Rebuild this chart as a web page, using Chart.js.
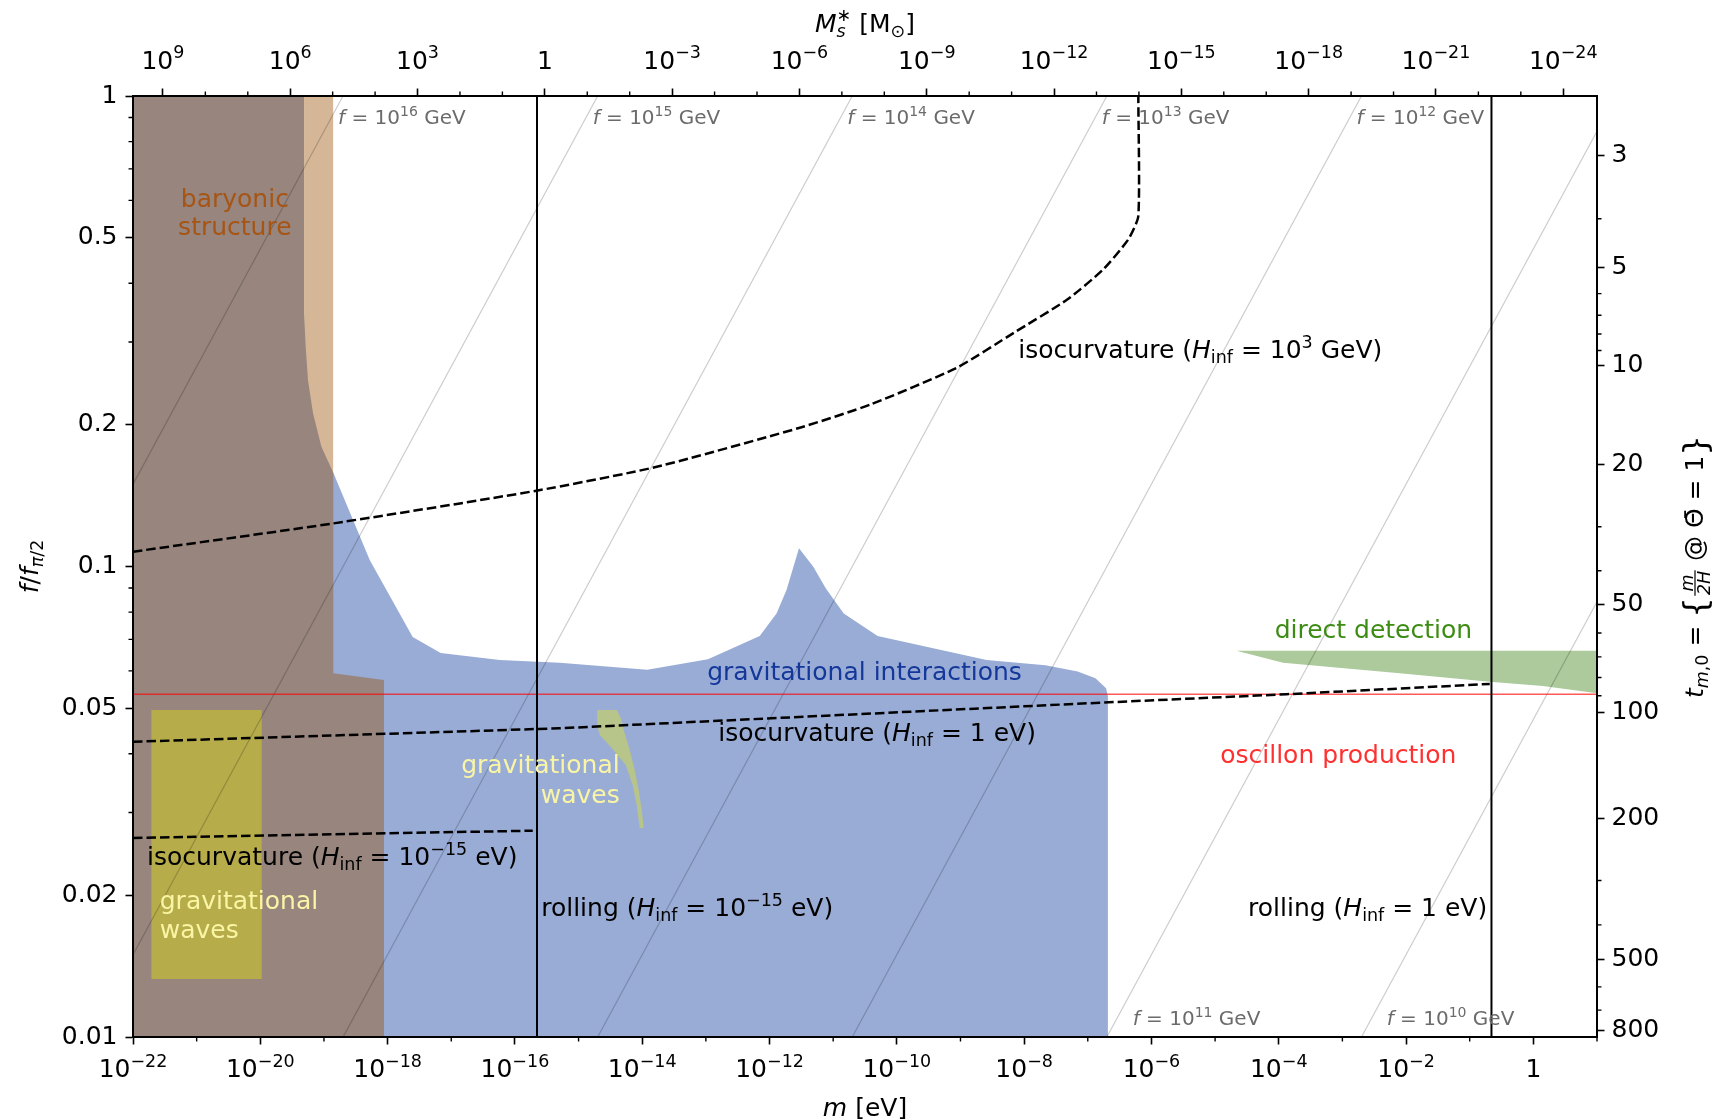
<!DOCTYPE html>
<html>
<head>
<meta charset="utf-8">
<title>Mass vs decay constant constraints</title>
<script src="https://cdn.jsdelivr.net/npm/chart.js@4.4.2/dist/chart.umd.min.js"></script>
<style>
    html, body { margin: 0; padding: 0; background: #fff; }
    #wrap { width: 1715px; height: 1120px; }
</style>
</head>
<body>
<div id="wrap"><canvas id="chart" width="1715" height="1120"></canvas></div>
<script>
// ---- axes ----
const mRange = [1e-22, 10];     // m [eV]
const fRange = [0.01, 1];       // f / f_pi/2
const bottomTickExps = [-22, -20, -18, -16, -14, -12, -10, -8, -6, -4, -2, 0];
const bottomMinorExps = [-21, -19, -17, -15, -13, -11, -9, -7, -5, -3, -1, 1];
const topTickExps = [9, 6, 3, 0, -3, -6, -9, -12, -15, -18, -21, -24];   // M_s* [M_sun]
const solarMassLogM = -15.53;   // log10 m where M_s* = 1 M_sun
const logMPerMassDecade = -2 / 3;
const leftTickValues = [1, 0.5, 0.2, 0.1, 0.05, 0.02, 0.01];
const leftMinorValues = [0.9, 0.8, 0.7, 0.6, 0.4, 0.3, 0.09, 0.08, 0.07, 0.06, 0.04, 0.03];
const rightTickLabels = [3, 5, 10, 20, 50, 100, 200, 500, 800];
const rightTickF = [0.748, 0.4310, 0.2677, 0.1645, 0.0829, 0.04906, 0.0292, 0.01463, 0.01033];
const rightMinorLabels = [4, 6, 7, 8, 9, 30, 40, 60, 70, 80, 90, 300, 400, 600, 700];

// ---- shaded regions (log10 m, f/f_pi/2) ----
const gravLogM = [-19.0, -18.851, -18.281, -17.606, -17.166, -16.239, -15.297, -13.921, -12.968, -12.154, -11.890,
    -11.733, -11.537, -11.312, -11.117, -10.834, -10.302, -8.591, -7.666, -7.159, -6.880, -6.712, -6.684, -6.684];
const gravF = [0.158, 0.158, 0.1032, 0.0708, 0.0655, 0.0633, 0.0624, 0.0603, 0.0635, 0.0712, 0.0795,
    0.0891, 0.1093, 0.0999, 0.0899, 0.0795, 0.0712, 0.0633, 0.0617, 0.0598, 0.0579, 0.0551, 0.0529, 0.01];

const baryonLogM = [-19.313, -18.852];
const baryonF = [1, 1];

const structureLogM = [-22, -19.313, -19.313, -19.287, -19.251, -19.172, -19.040, -18.852, -18.852, -18.057, -18.057];
const structureF = [1, 1, 0.3453, 0.2933, 0.2490, 0.2117, 0.1797, 0.1580, 0.0593, 0.0574, 0.01];

const gwLeftLogM = [-21.711, -19.978, -19.978, -21.711];
const gwLeftF = [0.04955, 0.04955, 0.01328, 0.01328];

const gwMidLogM = [-14.707, -14.401, -14.338, -14.291, -14.196, -14.118, -14.055, -14.008, -13.977,
    -14.039, -14.087, -14.150, -14.259, -14.479, -14.668, -14.707];
const gwMidF = [0.04955, 0.04955, 0.04764, 0.04493, 0.04074, 0.03694, 0.03350, 0.03038, 0.02781,
    0.02781, 0.03113, 0.03433, 0.03786, 0.04114, 0.04384, 0.04602];

const directLogM = [-4.664, 1, 1, 0.152, -0.685, -2.099, -3.932];
const directF = [0.0662, 0.0662, 0.0538, 0.0557, 0.0569, 0.0593, 0.0624];

// ---- lines ----
const oscillonF = 0.0535;

const isoHighLogM = [-22, -18.851, -15.662, -13.788, -11.525, -10.404, -9.057, -8.159, -7.317, -6.756, -6.363, -6.206, -6.206];
const isoHighF = [0.1075, 0.1235, 0.1449, 0.1627, 0.1972, 0.2212, 0.2646, 0.3140, 0.3698, 0.4282, 0.4960, 0.5559, 1];

const isoMidLogM = [-22, -15.296, -6.812, -3.879, -0.685];
const isoMidF = [0.04241, 0.04530, 0.05134, 0.05352, 0.05628];

const isoLowLogM = [-22, -15.72];
const isoLowF = [0.02649, 0.02745];

const rollingLogM = [-15.653, -0.658];

// lines of constant f [GeV]
const fLineExps = [16, 15, 14, 13, 12, 11, 10];
const fLineTopLogM = [-18.7, -14.7, -10.7, -6.7, -2.7, 1.3, 5.3];       // crossing f/f_pi/2 = 1
const fLineBottomLogM = [-26.7, -22.7, -18.7, -14.7, -10.7, -6.7, -2.7]; // crossing f/f_pi/2 = 0.01
const fLabelLogM = [-18.779, -14.779, -10.779, -6.779, -2.779, -6.294, -2.304];
const fLabelF = [0.896, 0.896, 0.896, 0.896, 0.896, 0.0109, 0.0109];

// ---- text labels ----
const H = [{ t: 'H', it: 1 }, { t: 'inf', sub: 1 }];
const notes = [
    { parts: [{ t: 'baryonic' }], logM: -20.40, f: 0.604, align: 'center', color: '#a65514' },
    { parts: [{ t: 'structure' }], logM: -20.40, f: 0.525, align: 'center', color: '#a65514' },
    { parts: [{ t: 'gravitational' }], logM: -21.58, f: 0.01939, align: 'left', color: '#faf5a5' },
    { parts: [{ t: 'waves' }], logM: -21.58, f: 0.01683, align: 'left', color: '#faf5a5' },
    { parts: [{ t: 'gravitational' }], logM: -14.354, f: 0.03767, align: 'right', color: '#faf5a5' },
    { parts: [{ t: 'waves' }], logM: -14.354, f: 0.03268, align: 'right', color: '#faf5a5' },
    { parts: [{ t: 'gravitational interactions' }], logM: -10.507, f: 0.05945, align: 'center', color: '#14379a' },
    { parts: [{ t: 'direct detection' }], logM: -2.513, f: 0.07328, align: 'center', color: '#3c8c14' },
    { parts: [{ t: 'oscillon production' }], logM: -3.064, f: 0.0396, align: 'center', color: '#ff3030' },
    { parts: [{ t: 'isocurvature (' }, ...H, { t: ' = 10' }, { t: '3', sup: 1 }, { t: ' GeV)' }],
        logM: -8.091, f: 0.2871, align: 'left', color: '#000' },
    { parts: [{ t: 'isocurvature (' }, ...H, { t: ' = 1 eV)' }],
        logM: -12.804, f: 0.04406, align: 'left', color: '#000' },
    { parts: [{ t: 'isocurvature (' }, ...H, { t: ' = 10' }, { t: '\u221215', sup: 1 }, { t: ' eV)' }],
        logM: -21.78, f: 0.02405, align: 'left', color: '#000' },
    { parts: [{ t: 'rolling (' }, ...H, { t: ' = 10' }, { t: '\u221215', sup: 1 }, { t: ' eV)' }],
        logM: -15.587, f: 0.01871, align: 'left', color: '#000' },
    { parts: [{ t: 'rolling (' }, ...H, { t: ' = 1 eV)' }],
        logM: -0.725, f: 0.01871, align: 'right', color: '#000' },
];

// ---- helpers ----
const FONT = '"DejaVu Sans", sans-serif';
Chart.defaults.font.family = FONT;
Chart.defaults.font.size = 25;
Chart.defaults.color = '#000';

const pts = (logM, f) => logM.map((l, i) => ({ x: 10 ** l, y: f[i] }));

function region(data, color, order, fill) {
    return { data, showLine: true, fill, backgroundColor: color, borderWidth: 0, pointRadius: 0, order };
}
function curve(data, color, width, dash, order, tension) {
    return {
        data, showLine: true, fill: false, borderColor: color, borderWidth: width,
        borderDash: dash || [], pointRadius: 0, order, tension: tension || 0
    };
}

function setFont(ctx, size, it) {
    ctx.font = (it ? 'italic ' : '') + size + 'px ' + FONT;
}
function partSize(p, size) {
    return (p.sub || p.sup) ? size * 0.7 : p.big ? size * 1.3 : size;
}
function partWidth(ctx, p, size) {
    if (p.frac) {
        setFont(ctx, size * 0.7, true);
        return Math.max(...p.frac.map(s => ctx.measureText(s).width)) + size * 0.15;
    }
    if (p.stack) {
        setFont(ctx, size * 0.7, p.it);
        return Math.max(...p.stack.map(s => ctx.measureText(s).width));
    }
    setFont(ctx, partSize(p, size), p.it);
    return ctx.measureText(p.t).width;
}
// draw text with italics, sub/superscripts and fractions; y is the vertical centre
function drawRich(ctx, parts, x, y, size, align, color) {
    const widths = parts.map(p => partWidth(ctx, p, size));
    const total = widths.reduce((a, b) => a + b, 0);
    let cx = align === 'center' ? x - total / 2 : align === 'right' ? x - total : x;
    const base = y + size * 0.3;
    ctx.fillStyle = color;
    ctx.strokeStyle = color;
    ctx.textBaseline = 'alphabetic';
    parts.forEach((p, i) => {
        ctx.textAlign = 'left';
        if (p.frac) {
            const w = widths[i];
            const bar = base - size * 0.3;
            setFont(ctx, size * 0.7, true);
            ctx.textAlign = 'center';
            ctx.fillText(p.frac[0], cx + w / 2, bar - size * 0.1);
            ctx.fillText(p.frac[1], cx + w / 2, bar + size * 0.58);
            ctx.lineWidth = 1.2;
            ctx.beginPath();
            ctx.moveTo(cx + size * 0.05, bar);
            ctx.lineTo(cx + w - size * 0.05, bar);
            ctx.stroke();
        } else if (p.stack) {
            setFont(ctx, size * 0.7, p.it);
            ctx.fillText(p.stack[0], cx, base + size * 0.2);
            ctx.fillText(p.stack[1], cx, base - size * 0.42);
        } else {
            setFont(ctx, partSize(p, size), p.it);
            const dy = p.sub ? size * 0.2 : p.sup ? -size * 0.42 : p.big ? size * 0.12 : 0;
            ctx.fillText(p.t, cx, base + dy);
        }
        cx += widths[i];
    });
}

function drawPower(ctx, exp, x, base) {
    ctx.fillStyle = '#000';
    ctx.textBaseline = 'alphabetic';
    if (exp === 0) {
        setFont(ctx, 25);
        ctx.textAlign = 'center';
        ctx.fillText('1', x, base);
        return;
    }
    const sup = exp < 0 ? '\u2212' + (-exp) : String(exp);
    setFont(ctx, 25);
    const w1 = ctx.measureText('10').width;
    setFont(ctx, 17.5);
    const w2 = ctx.measureText(sup).width;
    const x0 = x - (w1 + w2) / 2;
    ctx.textAlign = 'left';
    setFont(ctx, 25);
    ctx.fillText('10', x0, base);
    setFont(ctx, 17.5);
    ctx.fillText(sup, x0 + w1, base - 10.5);
}

const topTickM = k => 10 ** (solarMassLogM + k * logMPerMassDecade);

// right axis minor ticks sit between the labelled ones (log-log between neighbours)
function rightF(t) {
    let i = 0;
    while (i < rightTickLabels.length - 2 && t > rightTickLabels[i + 1]) i++;
    const a = Math.log10(rightTickLabels[i]), b = Math.log10(rightTickLabels[i + 1]);
    const fa = Math.log10(rightTickF[i]), fb = Math.log10(rightTickF[i + 1]);
    return 10 ** (fa + (Math.log10(t) - a) / (b - a) * (fb - fa));
}

const decor = {
    id: 'decor',
    afterDatasetsDraw(chart) {
        const ctx = chart.ctx;
        const xs = chart.scales.x, ys = chart.scales.y;
        ctx.save();
        fLineExps.forEach((n, i) => {
            drawRich(ctx, [{ t: 'f', it: 1 }, { t: ' = 10' }, { t: String(n), sup: 1 }, { t: ' GeV' }],
                xs.getPixelForValue(10 ** fLabelLogM[i]), ys.getPixelForValue(fLabelF[i]), 20, 'left', '#6b6b6b');
        });
        notes.forEach(n => {
            drawRich(ctx, n.parts, xs.getPixelForValue(10 ** n.logM), ys.getPixelForValue(n.f), 25, n.align, n.color);
        });
        ctx.restore();
    },
    afterDraw(chart) {
        const ctx = chart.ctx;
        const a = chart.chartArea;
        const xs = chart.scales.x, ys = chart.scales.y;
        ctx.save();
        // minor ticks
        ctx.strokeStyle = '#000';
        ctx.lineWidth = 1.4;
        ctx.beginPath();
        bottomMinorExps.forEach(e => {
            const p = xs.getPixelForValue(10 ** e);
            ctx.moveTo(p, a.bottom); ctx.lineTo(p, a.bottom + 4.5);
        });
        for (let k = 9; k >= -24; k--) {
            if (k % 3 === 0) continue;
            const p = xs.getPixelForValue(topTickM(k));
            ctx.moveTo(p, a.top); ctx.lineTo(p, a.top - 4.5);
        }
        leftMinorValues.forEach(v => {
            const p = ys.getPixelForValue(v);
            ctx.moveTo(a.left, p); ctx.lineTo(a.left - 4.5, p);
        });
        rightMinorLabels.forEach(t => {
            const p = ys.getPixelForValue(rightF(t));
            ctx.moveTo(a.right, p); ctx.lineTo(a.right + 4.5, p);
        });
        ctx.stroke();

        // power-of-ten tick labels
        bottomTickExps.forEach(e => drawPower(ctx, e, xs.getPixelForValue(10 ** e), a.bottom + 40));
        topTickExps.forEach(k => drawPower(ctx, k, xs.getPixelForValue(topTickM(k)), a.top - 27.5));

        // axis titles
        const midX = (a.left + a.right) / 2, midY = (a.top + a.bottom) / 2;
        drawRich(ctx, [{ t: 'm', it: 1 }, { t: ' [eV]' }], midX, a.bottom + 71, 25, 'center', '#000');
        drawRich(ctx, [{ t: 'M', it: 1 }, { stack: ['s', '\u2217'], it: 1 }, { t: ' [M' }, { t: '\u2299', sub: 1 }, { t: ']' }],
            midX, a.top - 72, 25, 'center', '#000');
        ctx.save();
        ctx.translate(30, midY);
        ctx.rotate(-Math.PI / 2);
        drawRich(ctx, [{ t: 'f', it: 1 }, { t: '/' }, { t: 'f', it: 1 }, { t: '\u03c0', sub: 1, it: 1 }, { t: '/2', sub: 1 }],
            0, 0, 25, 'center', '#000');
        ctx.restore();
        ctx.save();
        ctx.translate(1695, midY);
        ctx.rotate(-Math.PI / 2);
        drawRich(ctx, [{ t: 't', it: 1 }, { t: 'm', sub: 1, it: 1 }, { t: ',0', sub: 1 }, { t: ' = ' }, { t: '{', big: 1 },
            { frac: ['m', '2H'] }, { t: ' @ ' }, { t: '\u0398\u0304' }, { t: ' = 1' }, { t: '}', big: 1 }],
            0, 0, 25, 'center', '#000');
        ctx.restore();
        ctx.restore();
    }
};

const datasets = [
    region(pts(gravLogM, gravF), 'rgb(153,172,214)', 20, 'start'),
    region(pts(baryonLogM, baryonF), 'rgb(213,183,152)', 19, 'start'),
    region(pts(structureLogM, structureF), 'rgb(151,133,126)', 18, 'start'),
    region(pts(gwLeftLogM, gwLeftF), 'rgb(182,172,74)', 17, 'shape'),
    region(pts(gwMidLogM, gwMidF), 'rgb(183,196,138)', 17, 'shape'),
    region(pts(directLogM, directF), 'rgb(172,202,155)', 17, 'shape'),
    ...fLineExps.map((n, i) => curve(
        [{ x: 10 ** fLineTopLogM[i], y: 1 }, { x: 10 ** fLineBottomLogM[i], y: 0.01 }],
        'rgba(0,0,0,0.2)', 1.2, null, 10)),
    curve([{ x: mRange[0], y: oscillonF }, { x: mRange[1], y: oscillonF }], 'rgba(255,0,0,0.65)', 1.5, null, 8),
    curve(pts(isoHighLogM, isoHighF), '#000', 2.5, [9.5, 4], 6, 0.2),
    curve(pts(isoMidLogM, isoMidF), '#000', 2.5, [9.5, 4], 6),
    curve(pts(isoLowLogM, isoLowF), '#000', 2.5, [9.5, 4], 6),
    ...rollingLogM.map(l => curve([{ x: 10 ** l, y: 0.01 }, { x: 10 ** l, y: 1 }], '#000', 2, null, 5)),
];

const axisGrid = { drawOnChartArea: false, drawTicks: true, tickLength: 7.5, tickWidth: 1.6, tickColor: '#000', color: '#000', z: 1 };
const axisBorder = { display: true, color: '#000', width: 2, z: 1 };

new Chart(document.getElementById('chart').getContext('2d'), {
    type: 'scatter',
    data: { datasets },
    options: {
        responsive: false,
        animation: false,
        events: [],
        layout: { padding: 0, autoPadding: false },
        plugins: { legend: { display: false }, tooltip: { enabled: false } },
        scales: {
            x: {
                type: 'logarithmic', position: 'bottom', min: mRange[0], max: mRange[1],
                afterBuildTicks: s => { s.ticks = bottomTickExps.map(e => ({ value: 10 ** e })); },
                afterFit: s => { s.height = 83; },
                ticks: { display: false, autoSkip: false },
                grid: axisGrid, border: axisBorder
            },
            xTop: {
                type: 'logarithmic', position: 'top', axis: 'x', min: mRange[0], max: mRange[1],
                afterBuildTicks: s => { s.ticks = topTickExps.map(k => ({ value: topTickM(k) })); },
                afterFit: s => { s.height = 96; },
                ticks: { display: false, autoSkip: false },
                grid: axisGrid, border: axisBorder
            },
            y: {
                type: 'logarithmic', position: 'left', min: fRange[0], max: fRange[1],
                afterBuildTicks: s => { s.ticks = leftTickValues.map(v => ({ value: v })); },
                afterFit: s => { s.width = 133; },
                ticks: { autoSkip: false, padding: 8, color: '#000', font: { size: 25 }, callback: v => String(v) },
                grid: axisGrid, border: axisBorder
            },
            yRight: {
                type: 'logarithmic', position: 'right', axis: 'y', min: fRange[0], max: fRange[1],
                afterBuildTicks: s => { s.ticks = rightTickF.map(v => ({ value: v })); },
                afterFit: s => { s.width = 118; },
                ticks: { autoSkip: false, padding: 7, color: '#000', font: { size: 25 },
                    callback: (v, i) => String(rightTickLabels[i]) },
                grid: axisGrid, border: axisBorder
            }
        }
    },
    plugins: [decor]
});
</script>
</body>
</html>
